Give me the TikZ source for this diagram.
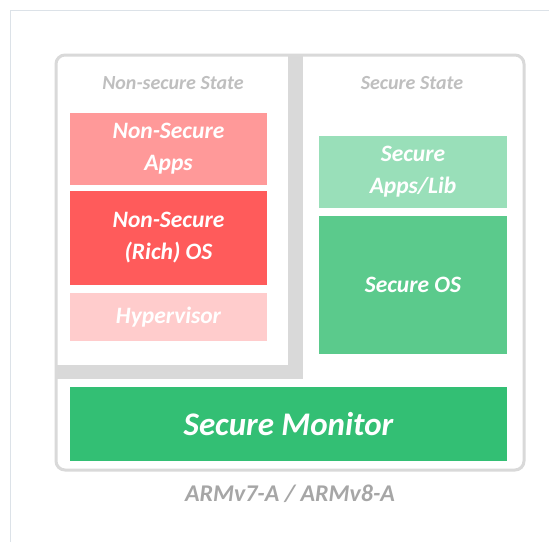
\documentclass[tikz,border=0pt]{standalone}
\usepackage{fontspec}
\setmainfont{Carlito}
\definecolor{frameline}{HTML}{DCE2E8}
\definecolor{boxgray}{HTML}{D9D9D9}
\definecolor{stategray}{HTML}{BFBFBF}
\definecolor{archgray}{HTML}{A6A6A6}
\definecolor{nsapps}{HTML}{FF9999}
\definecolor{nsos}{HTML}{FF5B5B}
\definecolor{hyp}{HTML}{FFCCCC}
\definecolor{sapps}{HTML}{99DFB9}
\definecolor{sos}{HTML}{5BCA8C}
\definecolor{smon}{HTML}{33BF74}
\begin{document}
\begin{tikzpicture}[x=1pt,y=-1pt,
  layer/.style={draw=none,inner sep=0pt,text=white,font=\bfseries\itshape\fontsize{23.5}{32}\selectfont,align=center},
  statelabel/.style={text=stategray,font=\bfseries\itshape\fontsize{20}{22}\selectfont,inner sep=0pt}]
\useasboundingbox (0,0) rectangle (549,542);
\fill[white] (0,0) rectangle (549,542);
% faint outer frame
\draw[frameline,line width=1pt] (10.5,542) -- (10.5,10) -- (549,10);
% main rounded box
\draw[boxgray,line width=3pt,rounded corners=9pt] (56,55) rectangle (524,470);
% L-shaped divider
\fill[boxgray] (288,55) rectangle (303,379);
\fill[boxgray] (56,365) rectangle (303,379);
% state labels
\node[statelabel] (nsstate) at (173,83) {Non-secure State};
\node[statelabel] (sstate) at (412,83) {Secure State};
% non-secure layers
\node[layer,fill=nsapps,minimum width=197pt,minimum height=72pt] (nsa) at (168.5,149) {Non-Secure\\Apps};
\node[layer,fill=nsos,minimum width=197pt,minimum height=94pt] (nso) at (168.5,238) {Non-Secure\\(Rich) OS};
\node[layer,fill=hyp,minimum width=197pt,minimum height=48pt] (hv) at (168.5,317) {Hypervisor};
% secure layers
\node[layer,fill=sapps,minimum width=188pt,minimum height=72pt] (sa) at (413,172) {Secure\\Apps/Lib};
\node[layer,fill=sos,minimum width=188pt,minimum height=138pt] (so) at (413,285) {Secure OS};
% monitor
\node[layer,fill=smon,minimum width=437pt,minimum height=74pt,font=\bfseries\itshape\fontsize{33}{36}\selectfont] (mon) at (288.5,424) {Secure Monitor};
% arch label
\node[text=archgray,font=\bfseries\itshape\fontsize{24}{26}\selectfont,inner sep=0pt] (arch) at (290,494) {ARMv7-A / ARMv8-A};
\end{tikzpicture}
\end{document}
